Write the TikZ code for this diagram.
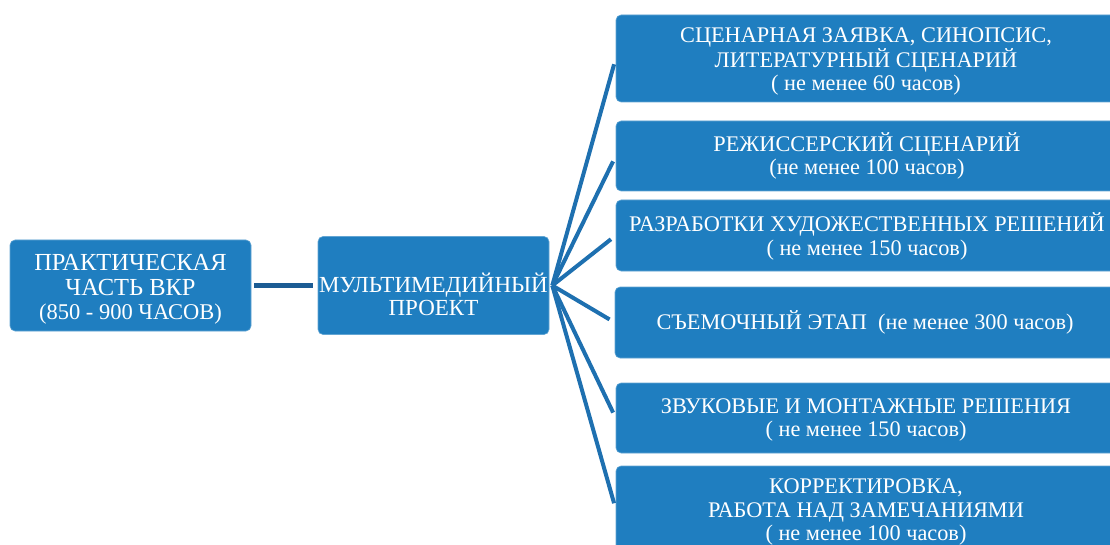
\documentclass[tikz,border=0pt]{standalone}
\usepackage{fontspec}
\setmainfont{Liberation Serif}
\definecolor{boxblue}{RGB}{31,126,192}
\definecolor{linkblue}{RGB}{30,112,176}
\definecolor{darklink}{RGB}{28,92,148}
\tikzset{
  basebox/.style={draw=boxblue!70!white, line width=0.6pt, fill=boxblue, rounded corners=5pt, inner sep=0pt},
  txt/.style={text=white, align=center, inner sep=0pt},
  bigtxt/.style={txt, font=\fontsize{24.5}{24.5}\selectfont},
  midtxt/.style={txt, font=\fontsize{23}{23}\selectfont},
  smalltxt/.style={txt, font=\fontsize{22.3}{23.5}\selectfont},
  rbox/.style={basebox, minimum width=500pt},
  fan/.style={draw=linkblue, line width=4pt, shorten >=6pt},
}
\begin{document}
\begin{tikzpicture}[x=1pt,y=-1pt]
\useasboundingbox (0,0) rectangle (1110,545);
% boxes
\node[basebox, minimum width=241pt, minimum height=91pt] (a) at (130.5,285.5) {};
\node[basebox, minimum width=231pt, minimum height=98pt] (b) at (433.5,285.5) {};
\node[rbox, minimum height=87pt] (r1) at (866,58.5) {};
\node[rbox, minimum height=70pt] (r2) at (866,156) {};
\node[rbox, minimum height=71pt] (r3) at (866,235.5) {};
\node[rbox, minimum height=71pt] (r4) at (865,322.5) {};
\node[rbox, minimum height=70pt] (r5) at (866,418) {};
\node[rbox, minimum height=86pt] (r6) at (866,509) {};
% texts
\node[bigtxt] (ta) at ([yshift=-4pt]a.center) {ПРАКТИЧЕСКАЯ\\ЧАСТЬ ВКР\\{\fontsize{22.5}{24.5}\selectfont (850 - 900 ЧАСОВ)}};
\node[midtxt] (tb) at ([yshift=-9pt]b.center) {МУЛЬТИМЕДИЙНЫЙ\\ПРОЕКТ};
\node[smalltxt] (t1) at ([yshift=-3pt]r1.center) {СЦЕНАРНАЯ ЗАЯВКА, СИНОПСИС,\\ЛИТЕРАТУРНЫЙ СЦЕНАРИЙ\\( не менее 60 часов)};
\node[smalltxt] (t2) at ([xshift=1pt]r2.center) {РЕЖИССЕРСКИЙ СЦЕНАРИЙ\\(не менее 100 часов)};
\node[smalltxt] (t3) at ([xshift=1pt,yshift=-1pt]r3.center) {РАЗРАБОТКИ ХУДОЖЕСТВЕННЫХ РЕШЕНИЙ\\( не менее 150 часов)};
\node[smalltxt] (t4) at (r4.center) {СЪЕМОЧНЫЙ ЭТАП\ \ (не менее 300 часов)};
\node[smalltxt] (t5) at ([yshift=-2pt]r5.center) {ЗВУКОВЫЕ И МОНТАЖНЫЕ РЕШЕНИЯ\\( не менее 150 часов)};
\node[smalltxt] (t6) at ([yshift=-3pt]r6.center) {КОРРЕКТИРОВКА,\\РАБОТА НАД ЗАМЕЧАНИЯМИ\\( не менее 100 часов)};
% connectors
\draw[darklink, line width=5pt, shorten <=3pt, shorten >=5pt] (a.east) -- (b.west);
\foreach \r in {r1,r2,r3,r4,r5,r6} \draw[fan] ([xshift=3pt]b.east) -- (\r.west);
\end{tikzpicture}
\end{document}
